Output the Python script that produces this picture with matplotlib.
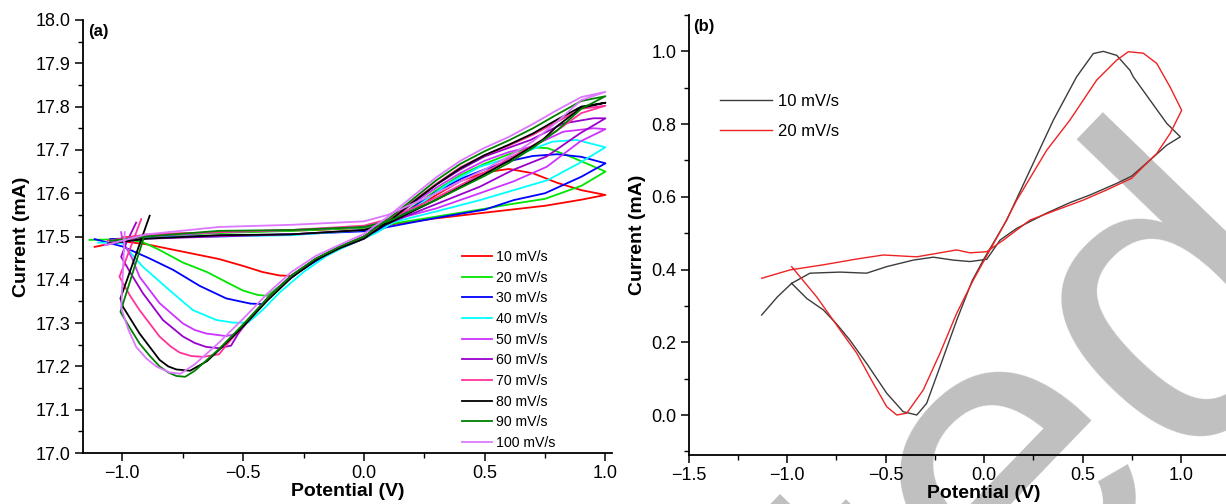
import matplotlib
matplotlib.use('Agg')
import matplotlib.pyplot as plt
from matplotlib.ticker import MultipleLocator

plt.rcParams['font.family'] = ['Liberation Sans', 'DejaVu Sans']

# ---------- panel (a): CV loops at different scan rates ----------
rates = ['10 mV/s', '20 mV/s', '30 mV/s', '40 mV/s', '50 mV/s',
         '60 mV/s', '70 mV/s', '80 mV/s', '90 mV/s', '100 mV/s']
colors = ['#ff0000', '#00e600', '#0000ff', '#00ffff', '#cc33ff',
          '#9900cc', '#ff3399', '#000000', '#008000', '#dd77ff']

x_10 = [-1.115, -1.0, -0.9, -0.75, -0.6, -0.5, -0.42, -0.35, -0.3,
        -0.25, -0.2, -0.1, 0.0, 0.1, 0.2, 0.3, 0.4, 0.5, 0.6, 0.7, 0.8, 0.9, 1.0,
        0.9, 0.75, 0.5, 0.3, 0.1, 0.0, -0.2, -0.5, -0.8, -1.0]
i_10 = [17.476, 17.489, 17.482, 17.465, 17.448, 17.432, 17.418, 17.410, 17.409,
        17.425, 17.445, 17.473, 17.496, 17.524, 17.560, 17.596, 17.628, 17.648, 17.656, 17.646, 17.624, 17.607, 17.596,
        17.585, 17.571, 17.555, 17.542, 17.527, 17.520, 17.515, 17.511, 17.506, 17.498]

x_20 = [-1.136, -1.0, -0.92, -0.85, -0.75, -0.65, -0.56, -0.5, -0.44, -0.40,
        -0.3, -0.2, -0.1, 0.0, 0.1, 0.2, 0.3, 0.4, 0.5, 0.6, 0.69, 0.76, 0.84, 0.92, 1.0,
        0.9, 0.75, 0.6, 0.5, 0.3, 0.1, 0.0, -0.3, -0.6, -0.9, -1.0]
i_20 = [17.492, 17.494, 17.488, 17.470, 17.440, 17.418, 17.392, 17.375, 17.365, 17.363,
        17.407, 17.446, 17.475, 17.498, 17.528, 17.568, 17.607, 17.642, 17.668, 17.690, 17.706, 17.704, 17.688, 17.669, 17.650,
        17.617, 17.587, 17.574, 17.564, 17.546, 17.528, 17.520, 17.513, 17.508, 17.500, 17.494]

x_30 = [-1.115, -1.0, -0.89, -0.79, -0.68, -0.57, -0.47, -0.42,
        -0.35, -0.265, -0.2, -0.1, 0.0, 0.1, 0.2, 0.3, 0.4, 0.5, 0.6, 0.7, 0.8, 0.9, 1.0,
        0.9, 0.75, 0.62, 0.5, 0.3, 0.1, 0.0, -0.3, -0.6, -0.9, -1.05]
i_30 = [17.494, 17.477, 17.450, 17.423, 17.386, 17.357, 17.345, 17.344,
        17.383, 17.420, 17.443, 17.472, 17.495, 17.527, 17.566, 17.603, 17.633, 17.655, 17.674, 17.686, 17.690, 17.684, 17.669,
        17.638, 17.600, 17.584, 17.562, 17.543, 17.522, 17.512, 17.505, 17.502, 17.497, 17.494]

x_40 = [-1.101, -1.0, -0.915, -0.805, -0.708, -0.61, -0.54, -0.48,
        -0.42, -0.35, -0.25, -0.15, -0.05, 0.05, 0.15, 0.25, 0.35, 0.48, 0.62, 0.78, 0.88, 1.0,
        0.89, 0.76, 0.62, 0.48, 0.3, 0.1, 0.0, -0.3, -0.6, -0.9, -1.05]
i_40 = [17.486, 17.484, 17.430, 17.376, 17.330, 17.307, 17.301, 17.301,
        17.330, 17.370, 17.418, 17.457, 17.484, 17.508, 17.542, 17.582, 17.622, 17.661, 17.685, 17.719, 17.723, 17.706,
        17.669, 17.630, 17.607, 17.584, 17.558, 17.530, 17.515, 17.503, 17.500, 17.497, 17.490]

x_50 = [-1.005, -1.0, -0.96, -0.929, -0.846, -0.749, -0.70, -0.653, -0.57, -0.52,
        -0.45, -0.4, -0.3, -0.2, -0.1, 0.0, 0.1, 0.2, 0.3, 0.4, 0.5, 0.6, 0.69, 0.825, 0.95, 1.0,
        0.894, 0.757, 0.618, 0.48, 0.3, 0.1, 0.0, -0.3, -0.6, -0.9, -1.074]
i_50 = [17.510, 17.490, 17.450, 17.407, 17.346, 17.299, 17.284, 17.276, 17.270, 17.276,
        17.325, 17.358, 17.410, 17.448, 17.476, 17.500, 17.533, 17.575, 17.613, 17.647, 17.675, 17.695, 17.707, 17.742, 17.750, 17.748,
        17.719, 17.661, 17.627, 17.600, 17.565, 17.535, 17.522, 17.515, 17.510, 17.500, 17.480]

x_60 = [-0.943, -0.984, -1.005, -0.96, -0.915, -0.832, -0.749, -0.70, -0.653, -0.6, -0.55,
        -0.5, -0.4, -0.3, -0.2, -0.1, 0.0, 0.1, 0.2, 0.3, 0.4, 0.5, 0.6, 0.69, 0.825, 0.95, 1.0,
        0.894, 0.757, 0.618, 0.48, 0.3, 0.1, 0.0, -0.3, -0.6, -0.9, -1.06]
i_60 = [17.532, 17.485, 17.453, 17.410, 17.369, 17.307, 17.269, 17.254, 17.245, 17.242, 17.248,
        17.295, 17.357, 17.410, 17.448, 17.476, 17.500, 17.535, 17.578, 17.620, 17.655, 17.685, 17.705, 17.723, 17.761, 17.773, 17.773,
        17.738, 17.685, 17.654, 17.615, 17.575, 17.530, 17.515, 17.505, 17.500, 17.495, 17.485]

x_70 = [-0.922, -1.012, -0.97, -0.929, -0.846, -0.80, -0.763, -0.715, -0.667, -0.6,
        -0.55, -0.5, -0.4, -0.3, -0.2, -0.1, 0.0, 0.1, 0.2, 0.3, 0.4, 0.5, 0.6, 0.7, 0.8, 0.9, 1.0,
        0.9, 0.8, 0.7, 0.6, 0.5, 0.3, 0.1, 0.0, -0.3, -0.6, -0.9, -1.06]
i_70 = [17.540, 17.407, 17.365, 17.330, 17.269, 17.246, 17.232, 17.224, 17.222, 17.228,
        17.262, 17.293, 17.355, 17.408, 17.447, 17.476, 17.500, 17.537, 17.580, 17.622, 17.660, 17.688, 17.710, 17.735, 17.765, 17.795, 17.802,
        17.785, 17.745, 17.710, 17.680, 17.648, 17.590, 17.540, 17.525, 17.515, 17.510, 17.505, 17.490]

x_80 = [-0.887, -1.008, -0.998, -0.929, -0.846, -0.81, -0.777, -0.72,
        -0.65, -0.6, -0.5, -0.4, -0.3, -0.2, -0.1, 0.0, 0.1, 0.2, 0.3, 0.4, 0.5, 0.6, 0.7, 0.8, 0.9, 1.0,
        0.9, 0.8, 0.74, 0.6, 0.48, 0.3, 0.1, 0.0, -0.3, -0.6, -0.9, -1.053]
i_80 = [17.548, 17.357, 17.338, 17.276, 17.215, 17.200, 17.193, 17.190,
        17.212, 17.238, 17.292, 17.352, 17.405, 17.445, 17.473, 17.495, 17.533, 17.578, 17.620, 17.658, 17.688, 17.712, 17.738, 17.770, 17.800, 17.809,
        17.797, 17.755, 17.723, 17.675, 17.638, 17.585, 17.530, 17.515, 17.505, 17.503, 17.495, 17.484]

x_90 = [-0.91, -1.008, -0.97, -0.929, -0.886, -0.846, -0.81, -0.777, -0.74,
        -0.7, -0.6, -0.5, -0.4, -0.3, -0.2, -0.1, 0.0, 0.1, 0.2, 0.3, 0.4, 0.5, 0.6, 0.7, 0.8, 0.9, 1.0,
        0.9, 0.8, 0.7, 0.6, 0.5, 0.3, 0.1, 0.0, -0.3, -0.6, -0.9, -1.05]
i_90 = [17.500, 17.326, 17.290, 17.253, 17.224, 17.200, 17.186, 17.178, 17.176,
        17.190, 17.240, 17.297, 17.357, 17.410, 17.449, 17.477, 17.500, 17.540, 17.585, 17.630, 17.668, 17.697, 17.722, 17.750, 17.782, 17.813, 17.824,
        17.795, 17.745, 17.705, 17.670, 17.640, 17.585, 17.535, 17.522, 17.515, 17.513, 17.500, 17.490]

x_100 = [-0.99, -1.005, -0.975, -0.943, -0.90, -0.86, -0.805, -0.76,
         -0.7, -0.6, -0.5, -0.4, -0.3, -0.2, -0.1, 0.0, 0.1, 0.2, 0.3, 0.4, 0.5, 0.6, 0.7, 0.8, 0.9, 1.0,
         0.9, 0.8, 0.7, 0.6, 0.5, 0.3, 0.1, 0.0, -0.3, -0.6, -0.9, -1.07]
i_100 = [17.510, 17.335, 17.285, 17.245, 17.218, 17.200, 17.186, 17.183,
         17.205, 17.255, 17.310, 17.368, 17.418, 17.455, 17.481, 17.506, 17.546, 17.592, 17.637, 17.675, 17.705, 17.730, 17.760, 17.792, 17.822, 17.834,
         17.815, 17.765, 17.720, 17.685, 17.655, 17.600, 17.550, 17.535, 17.527, 17.522, 17.505, 17.480]

loops_x = [x_10, x_20, x_30, x_40, x_50, x_60, x_70, x_80, x_90, x_100]
loops_i = [i_10, i_20, i_30, i_40, i_50, i_60, i_70, i_80, i_90, i_100]

# ---------- panel (b): two scan rates, normalised ----------
xb_10 = [-0.978, -0.90, -0.817, -0.749, -0.682, -0.597, -0.495, -0.411, -0.342, -0.292, -0.224, -0.139,
         -0.06, 0.0, 0.06, 0.115, 0.233, 0.352, 0.470, 0.555, 0.606, 0.674, 0.741, 0.758, 0.843, 0.928, 0.997,
         0.928, 0.843, 0.750, 0.674, 0.538, 0.436, 0.317, 0.165, 0.081, 0.013, -0.072, -0.157, -0.258,
         -0.36, -0.495, -0.597, -0.732, -0.885, -0.978, -1.05, -1.130]
ib_10 = [0.362, 0.320, 0.289, 0.250, 0.206, 0.142, 0.060, 0.009, 0.0, 0.032, 0.133, 0.261,
         0.370, 0.430, 0.485, 0.536, 0.673, 0.811, 0.930, 0.994, 1.0, 0.989, 0.948, 0.930, 0.866, 0.802, 0.765,
         0.742, 0.701, 0.657, 0.637, 0.605, 0.584, 0.555, 0.513, 0.481, 0.428, 0.422, 0.426, 0.434,
         0.426, 0.408, 0.390, 0.393, 0.390, 0.362, 0.325, 0.275]

xb_20 = [-0.978, -0.851, -0.732, -0.647, -0.563, -0.495, -0.444, -0.393, -0.309, -0.224, -0.139, -0.055,
         0.030, 0.098, 0.166, 0.318, 0.436, 0.572, 0.674, 0.733, 0.809, 0.877, 0.945, 1.004,
         0.945, 0.877, 0.809, 0.750, 0.623, 0.504, 0.369, 0.233, 0.098, 0.013, -0.072, -0.140, -0.224,
         -0.342, -0.512, -0.647, -0.817, -0.986, -1.130]
ib_20 = [0.408, 0.325, 0.234, 0.170, 0.087, 0.023, 0.0, 0.005, 0.069, 0.170, 0.280, 0.371,
         0.454, 0.520, 0.591, 0.728, 0.811, 0.921, 0.976, 0.999, 0.995, 0.967, 0.902, 0.838,
         0.774, 0.719, 0.683, 0.651, 0.619, 0.591, 0.564, 0.536, 0.481, 0.449, 0.446, 0.454, 0.446,
         0.435, 0.440, 0.429, 0.413, 0.399, 0.376]

W, H = 1226, 504
fig = plt.figure(figsize=(W / 100, H / 100), dpi=100)

# grey watermark word behind the plots, only its tail is inside the picture
fig.text(1348 / W, 1 - 307 / H, 'Accepted', fontsize=310, color='#c0c0c0',
         rotation=46, rotation_mode='anchor', ha='right', va='baseline', zorder=-5)


def style(ax):
    for s in ['top', 'right']:
        ax.spines[s].set_visible(False)
    for s in ['left', 'bottom']:
        ax.spines[s].set_linewidth(1.3)
    ax.tick_params(which='major', direction='out', length=6, width=1.1, labelsize=13, pad=3)
    ax.tick_params(which='minor', direction='out', length=3.5, width=1.0)
    ax.set_facecolor('none')


# (a)
ax1 = fig.add_axes([83 / W, 1 - 453 / H, 529 / W, 433 / H])
for xs, ys, c, lab in zip(loops_x, loops_i, colors, rates):
    ax1.plot(xs, ys, color=c, lw=1.3, label=lab, solid_joinstyle='round')
ax1.set_xlim(-1.163, 1.027)
ax1.set_ylim(17.0, 18.0)
ax1.xaxis.set_major_locator(MultipleLocator(0.5))
ax1.xaxis.set_minor_locator(MultipleLocator(0.25))
ax1.yaxis.set_major_locator(MultipleLocator(0.1))
ax1.yaxis.set_minor_locator(MultipleLocator(0.05))
style(ax1)
ax1.set_xlabel('Potential (V)', fontsize=14, fontweight='bold', labelpad=0.5)
ax1.set_ylabel('Current (mA)', fontsize=14, fontweight='bold', labelpad=4)
ax1.text(0.01, 0.99, '(a)', transform=ax1.transAxes, fontsize=12, fontweight='bold',
         ha='left', va='top')
ax1.legend(loc='upper left', bbox_to_anchor=(462 / W, 1 - 250 / H),
           bbox_transform=fig.transFigure, frameon=False, fontsize=10.2,
           handlelength=2.1, handletextpad=0.3, labelspacing=0.47,
           borderpad=0, borderaxespad=0)

# (b)
ax2 = fig.add_axes([688.9 / W, 1 - 455 / H, 590.4 / W, 440 / H])
ax2.plot(xb_10, ib_10, color='#3c3c3c', lw=1.0, label='10 mV/s')
ax2.plot(xb_20, ib_20, color='#ee2222', lw=1.0, label='20 mV/s')
ax2.set_xlim(-1.5, 1.5)
ax2.set_ylim(-0.11, 1.1)
ax2.xaxis.set_major_locator(MultipleLocator(0.5))
ax2.xaxis.set_minor_locator(MultipleLocator(0.25))
ax2.yaxis.set_major_locator(MultipleLocator(0.2))
ax2.yaxis.set_minor_locator(MultipleLocator(0.1))
style(ax2)
ax2.set_xlabel('Potential (V)', fontsize=14, fontweight='bold', labelpad=0.5)
ax2.set_ylabel('Current (mA)', fontsize=14, fontweight='bold', labelpad=4)
ax2.text(0.008, 0.99, '(b)', transform=ax2.transAxes, fontsize=12, fontweight='bold',
         ha='left', va='top')
ax2.legend(loc='upper left', bbox_to_anchor=(720 / W, 1 - 94 / H),
           bbox_transform=fig.transFigure, frameon=False, fontsize=12,
           handlelength=3.1, handletextpad=0.35, labelspacing=0.89,
           borderpad=0, borderaxespad=0)

fig.savefig('out.png', dpi=100)
